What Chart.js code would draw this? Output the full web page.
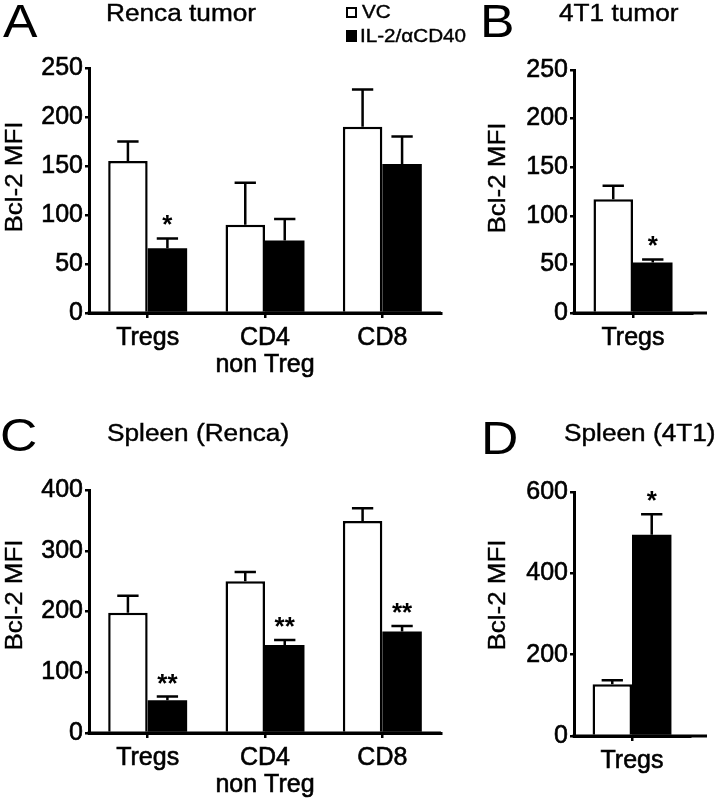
<!DOCTYPE html>
<html>
<head>
<meta charset="utf-8">
<script src="https://cdn.jsdelivr.net/npm/chart.js@4.4.0/dist/chart.umd.min.js"></script>
<style>
  body { margin: 0; background: #fff; width: 720px; height: 806px; position: relative; overflow: hidden;
         font-family: "Liberation Sans", Arial, sans-serif; color: #000; }
  canvas { position: absolute; }
  .t { position: absolute; line-height: 1; white-space: nowrap; transform-origin: 0 0; -webkit-text-stroke: 0.4px #000; }
  .letter { font-size: 47px; transform: scaleX(1.1); -webkit-text-stroke: 0; }
  .title { font-size: 23px; transform: scaleX(1.14); }
  .ytitle { font-size: 24px; transform-origin: 50% 50%; transform: translate(-50%, -50%) rotate(-90deg) scaleX(1.08); }
  .leg { font-size: 17.5px; transform: scaleX(1.18); }
  .sq { position: absolute; width: 11px; height: 11px; box-sizing: border-box; border: 2px solid #000; }
</style>
</head>
<body>
<canvas id="chartA" width="460" height="400" style="left:0;top:0"></canvas>
<canvas id="chartB" width="250" height="400" style="left:470px;top:0"></canvas>
<canvas id="chartC" width="460" height="406" style="left:0;top:400px"></canvas>
<canvas id="chartD" width="250" height="406" style="left:470px;top:400px"></canvas>

<div class="t letter" style="left:3px;top:-3px">A</div>
<div class="t title" style="left:106px;top:2px">Renca tumor</div>
<div class="sq" style="left:346px;top:7px;background:#fff"></div>
<div class="t leg" style="left:362px;top:4px">VC</div>
<div class="sq" style="left:346px;top:30px;height:12px;background:#000"></div>
<div class="t leg" style="left:360px;top:28px">IL-2/αCD40</div>
<div class="t ytitle" style="left:14px;top:177px">Bcl-2 MFI</div>

<div class="t letter" style="left:480px;top:-3px">B</div>
<div class="t title" style="left:559px;top:2px">4T1 tumor</div>
<div class="t ytitle" style="left:497px;top:178px">Bcl-2 MFI</div>

<div class="t letter" style="left:0;top:411px">C</div>
<div class="t title" style="left:107px;top:422px">Spleen (Renca)</div>
<div class="t ytitle" style="left:14px;top:595px">Bcl-2 MFI</div>

<div class="t letter" style="left:481px;top:414px">D</div>
<div class="t title" style="left:564px;top:422px">Spleen (4T1)</div>
<div class="t ytitle" style="left:497px;top:595px">Bcl-2 MFI</div>

<script>
// categories
const threeCats = ["Tregs", ["CD4", "non Treg"], "CD8"];
const tregCat = ["Tregs"];

// A - Renca tumor
const rencaTumorVC = [155, 90, 190];
const rencaTumorVCErr = [20, 43, 38];
const rencaTumorIL = [66, 74, 152];
const rencaTumorILErr = [10, 22, 28];
const rencaTumorSig = ["*", "", ""];
const rencaTumorTicks = [0, 50, 100, 150, 200, 250];

// B - 4T1 tumor
const t41TumorVC = [117];
const t41TumorVCErr = [14];
const t41TumorIL = [52];
const t41TumorILErr = [3];
const t41TumorSig = ["*"];
const t41TumorTicks = [0, 50, 100, 150, 200, 250];

// C - Spleen (Renca)
const rencaSpleenVC = [198, 250, 349];
const rencaSpleenVCErr = [28, 15, 21];
const rencaSpleenIL = [54, 145, 167];
const rencaSpleenILErr = [6, 8, 9];
const rencaSpleenSig = ["**", "**", "**"];
const rencaSpleenTicks = [0, 100, 200, 300, 400];

// D - Spleen (4T1)
const t41SpleenVC = [127];
const t41SpleenVCErr = [10];
const t41SpleenIL = [495];
const t41SpleenILErr = [50];
const t41SpleenSig = ["*"];
const t41SpleenTicks = [0, 200, 400, 600];

const FONT = "'Liberation Sans', Arial, sans-serif";

// error bars (upper only), significance stars, and the x axis line (redrawn so it
// runs under the bars and out past the single-category panels)
const errBarPlugin = {
  id: "errBars",
  afterDatasetsDraw(chart, args, opts) {
    const ctx = chart.ctx;
    const y = chart.scales.y;
    const a = chart.chartArea;
    ctx.save();
    ctx.strokeStyle = "#000";
    ctx.fillStyle = "#000";
    ctx.lineWidth = 3;
    ctx.beginPath();
    ctx.moveTo(a.left - 1.5, a.bottom);
    ctx.lineTo(opts.extendTo || a.right, a.bottom);
    ctx.stroke();
    ctx.lineWidth = 2.5;
    chart.data.datasets.forEach((ds, i) => {
      const meta = chart.getDatasetMeta(i);
      meta.data.forEach((bar, j) => {
        const top = y.getPixelForValue(ds.data[j] + opts.errs[i][j]);
        const half = bar.width * 0.27;
        ctx.beginPath();
        ctx.moveTo(bar.x, bar.y);
        ctx.lineTo(bar.x, top);
        ctx.moveTo(bar.x - half, top);
        ctx.lineTo(bar.x + half, top);
        ctx.stroke();
        const s = opts.sig[i][j];
        if (s) {
          ctx.font = "bold 26px " + FONT;
          ctx.textAlign = "center";
          ctx.textBaseline = "alphabetic";
          ctx.fillText(s, bar.x, top - 20 + 26 * 0.575);
        }
      });
    });
    ctx.restore();
  }
};

function panel(id, cats, vc, vcErr, il, ilErr, sig, ticks, box, catPct, extendTo) {
  const cv = document.getElementById(id);
  new Chart(cv, {
    type: "bar",
    data: {
      labels: cats,
      datasets: [
        { label: "VC", data: vc, backgroundColor: "#fff", borderColor: "#000", borderWidth: 2.5,
          barPercentage: 1, categoryPercentage: catPct },
        { label: "IL-2/αCD40", data: il, backgroundColor: "#000", borderColor: "#000", borderWidth: 0,
          barPercentage: 1, categoryPercentage: catPct }
      ]
    },
    options: {
      responsive: false,
      animation: false,
      layout: { padding: { top: box.top, left: 0, right: cv.width - box.right, bottom: 0 } },
      plugins: {
        legend: { display: false },
        tooltip: { enabled: false },
        errBars: { errs: [vcErr, ilErr], sig: [cats.map(() => ""), sig], extendTo: extendTo }
      },
      scales: {
        x: {
          offset: true,
          grid: { drawOnChartArea: false, offset: false, tickLength: 5, lineWidth: 2.5, color: "#000" },
          border: { color: "#000", width: 3 },
          ticks: { color: "#000", font: { family: FONT, size: 25, lineHeight: 1.1 }, padding: 6,
                   textStrokeColor: "#000", textStrokeWidth: 0.6, maxRotation: 0, autoSkip: false },
          afterFit: s => { s.height = cv.height - box.bottom; }
        },
        y: {
          min: ticks[0],
          max: ticks[ticks.length - 1],
          grid: { drawOnChartArea: false, tickLength: 4, lineWidth: 2.5, color: "#000" },
          border: { color: "#000", width: 3 },
          ticks: { stepSize: ticks[1] - ticks[0], color: "#000", font: { family: FONT, size: 25 }, padding: 2,
                   textStrokeColor: "#000", textStrokeWidth: 0.6 },
          afterFit: s => { s.width = box.left; }
        }
      }
    },
    plugins: [errBarPlugin]
  });
}

panel("chartA", threeCats, rencaTumorVC, rencaTumorVCErr, rencaTumorIL, rencaTumorILErr, rencaTumorSig,
      rencaTumorTicks, { left: 89, right: 441, top: 68, bottom: 313 }, 0.673, null);
panel("chartB", tregCat, t41TumorVC, t41TumorVCErr, t41TumorIL, t41TumorILErr, t41TumorSig,
      t41TumorTicks, { left: 104, right: 222, top: 70, bottom: 313 }, 0.67, 237);
panel("chartC", threeCats, rencaSpleenVC, rencaSpleenVCErr, rencaSpleenIL, rencaSpleenILErr, rencaSpleenSig,
      rencaSpleenTicks, { left: 89, right: 441, top: 90, bottom: 333 }, 0.673, null);
panel("chartD", tregCat, t41SpleenVC, t41SpleenVCErr, t41SpleenIL, t41SpleenILErr, t41SpleenSig,
      t41SpleenTicks, { left: 104, right: 220, top: 92, bottom: 336 }, 0.68, 237);
</script>
</body>
</html>
